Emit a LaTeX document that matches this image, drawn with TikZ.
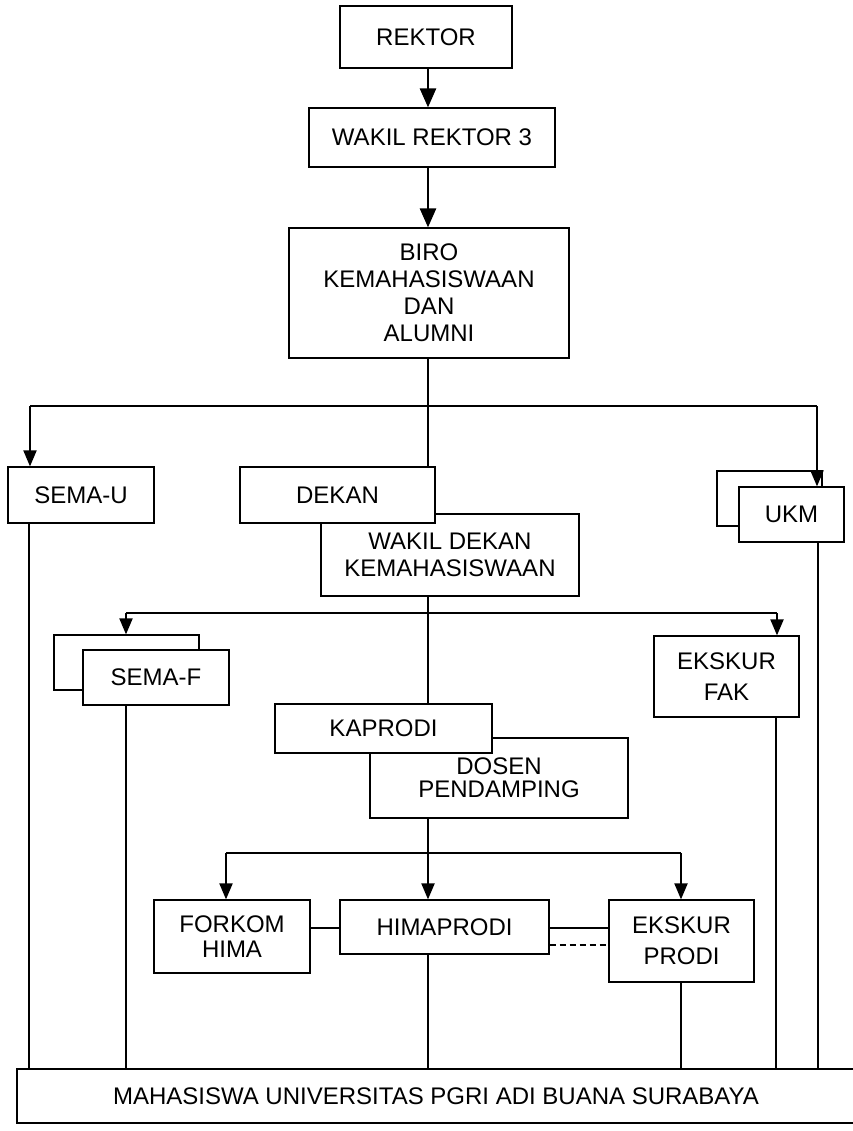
\documentclass[tikz,border=0pt]{standalone}
\usepackage{fontspec}
\setmainfont{Liberation Sans}
\usetikzlibrary{arrows.meta}
\begin{document}
\begin{tikzpicture}[x=1pt,y=-1pt,
  box/.style={draw, fill=white, line width=1.2pt, inner sep=0pt, align=center,
    font=\fontsize{24}{27}\selectfont},
  conn/.style={line width=1.2pt},
  branch/.style={line width=2pt},
  arr/.style={line width=2pt, -{Triangle[width=13pt,length=16pt]}},
  bigarr/.style={line width=2.6pt, -{Triangle[width=16pt,length=19pt]}},
  dashlink/.style={line width=1.2pt, dash pattern=on 6pt off 4pt}]
\useasboundingbox (0,0) rectangle (852,1131);
\coordinate (cx) at (428,0);

% boxes
\node[box, minimum width=172pt, minimum height=62pt] (rektor) at (426,37) {REKTOR};
\node[box, minimum width=246pt, minimum height=59pt] (wr3) at (432,137.5) {WAKIL REKTOR 3};
\node[box, minimum width=280pt, minimum height=130pt] (biro) at (429,293) {BIRO\\KEMAHASISWAAN\\DAN\\ALUMNI};
\node[box, minimum width=146pt, minimum height=56pt] (semau) at (81,495) {SEMA-U};
\node[box, minimum width=258pt, minimum height=82pt] (wd) at (450,555) {WAKIL DEKAN\\KEMAHASISWAAN};
\node[box, minimum width=195pt, minimum height=56pt] (dekan) at (337.5,495) {DEKAN};
\node[box, minimum width=105pt, minimum height=55pt] (ukmb) at (769.5,498.5) {};
\node[box, minimum width=105pt, minimum height=55pt] (ukm) at (791.5,514.5) {UKM};
\node[box, minimum width=145pt, minimum height=55pt] (semafb) at (126.5,662.5) {};
\node[box, minimum width=146pt, minimum height=55pt] (semaf) at (156,677.5) {SEMA-F};
\node[box, minimum width=145pt, minimum height=81pt] (ekfak) at (726.5,676.5) {EKSKUR\\[4pt]FAK};
\node[box, minimum width=258pt, minimum height=80pt] (dosen) at (499,778) {DOSEN\\[-4pt]PENDAMPING};
\node[box, minimum width=217pt, minimum height=49pt] (kaprodi) at (383.5,728.5) {KAPRODI};
\node[box, minimum width=156pt, minimum height=73pt] (forkom) at (232,936.5) {FORKOM\\[-2pt]HIMA};
\node[box, minimum width=209pt, minimum height=54pt] (hima) at (444.5,927) {HIMAPRODI};
\node[box, minimum width=145pt, minimum height=82pt] (ekprodi) at (681.5,941) {EKSKUR\\[4pt]PRODI};
\node[box, minimum width=838pt, minimum height=54pt] (mhs) at (436,1096) {MAHASISWA UNIVERSITAS PGRI ADI BUANA SURABAYA};

% top chain
\draw[bigarr] (rektor.south -| cx) -- (wr3.north -| cx);
\draw[bigarr] (wr3.south -| cx) -- (biro.north -| cx);
\draw[conn] (biro.south -| cx) -- (dekan.north -| cx);

% first branch
\coordinate (hL) at (30,406);
\coordinate (hR) at (817,406);
\draw[branch] (hL) -- (hR);
\draw[arr] (hL) -- (hL |- semau.north);
\draw[arr] (hR) -- (hR |- ukm.north);

% wakil dekan -> kaprodi
\draw[conn] (wd.south -| cx) -- (kaprodi.north -| cx);

% second branch
\coordinate (fL) at (126,613);
\coordinate (fR) at (777,613);
\draw[branch] (fL) -- (fR);
\draw[arr] (fL) -- (fL |- semafb.north);
\draw[arr] (fR) -- (fR |- ekfak.north);

% dosen -> himaprodi
\draw[arr] (dosen.south -| cx) -- (hima.north -| cx);

% third branch
\coordinate (pL) at (226,853);
\coordinate (pR) at (681,853);
\draw[branch] (pL) -- (pR);
\draw[arr] (pL) -- (pL |- forkom.north);
\draw[arr] (pR) -- (pR |- ekprodi.north);

% horizontal links
\coordinate (ya) at (0,928);
\coordinate (yb) at (0,945);
\draw[conn] (forkom.east |- ya) -- (hima.west |- ya);
\draw[conn] (hima.east |- ya) -- (ekprodi.west |- ya);
\draw[dashlink] (hima.east |- yb) -- (ekprodi.west |- yb);

% lines down to mahasiswa
\coordinate (v1) at (29,0);
\coordinate (v2) at (126,0);
\coordinate (v4) at (681,0);
\coordinate (v5) at (776,0);
\coordinate (v6) at (818,0);
\draw[conn] (semau.south -| v1) -- (mhs.north -| v1);
\draw[conn] (semaf.south -| v2) -- (mhs.north -| v2);
\draw[conn] (hima.south -| cx) -- (mhs.north -| cx);
\draw[conn] (ekprodi.south -| v4) -- (mhs.north -| v4);
\draw[conn] (ekfak.south -| v5) -- (mhs.north -| v5);
\draw[conn] (ukm.south -| v6) -- (mhs.north -| v6);
\end{tikzpicture}
\end{document}
